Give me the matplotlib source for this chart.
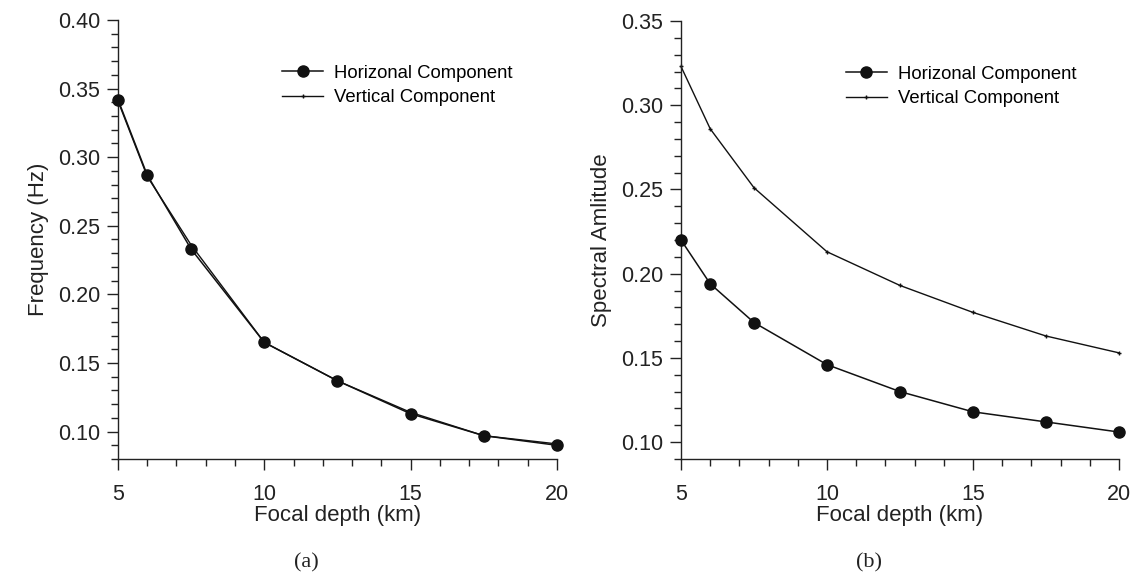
import numpy as np
import matplotlib
matplotlib.use('Agg')
from matplotlib import pyplot as plt
from matplotlib.ticker import MultipleLocator, FormatStrFormatter

plt.rcParams['font.family'] = ['Liberation Sans', 'DejaVu Sans']

# 数据
depth = [5, 6, 7.5, 10, 12.5, 15, 17.5, 20]
freq_h = [0.342, 0.287, 0.233, 0.165, 0.137, 0.113, 0.097, 0.090]
freq_v = [0.341, 0.286, 0.236, 0.165, 0.137, 0.114, 0.097, 0.091]
amp_h = [0.220, 0.194, 0.171, 0.146, 0.130, 0.118, 0.112, 0.106]
amp_v = [0.323, 0.286, 0.251, 0.213, 0.193, 0.177, 0.163, 0.153]

fig = plt.figure(figsize=(11.43, 5.78), dpi=100)
ax1 = fig.add_axes([0.1032, 0.2059, 0.384, 0.7595])
ax2 = fig.add_axes([0.5958, 0.2059, 0.3832, 0.7578])


def style_axis(ax, ylim, ylabel, tag):
    ax.set_xlim(5, 20)
    ax.set_ylim(*ylim)
    for s in ['top', 'right']:
        ax.spines[s].set_visible(False)
    for s in ['left', 'bottom']:
        ax.spines[s].set_linewidth(1.0)
        ax.spines[s].set_color('#222222')
    ax.xaxis.set_major_locator(MultipleLocator(5))
    ax.xaxis.set_minor_locator(MultipleLocator(1))
    ax.yaxis.set_major_locator(MultipleLocator(0.05))
    ax.yaxis.set_minor_locator(MultipleLocator(0.01))
    ax.yaxis.set_major_formatter(FormatStrFormatter('%.2f'))
    ax.tick_params(which='major', direction='out', length=8, width=1,
                   labelsize=15.5, colors='#222222', pad=5)
    ax.tick_params(which='minor', direction='out', length=5, width=1,
                   colors='#222222')
    ax.tick_params(axis='x', pad=10)
    ax.set_xlabel('Focal depth (km)', fontsize=16, color='#222222', labelpad=0)
    ax.set_ylabel(ylabel, fontsize=16, color='#222222', labelpad=6)
    ax.text(0.43, -0.215, tag, transform=ax.transAxes, ha='center', va='top',
            fontsize=16, family='Liberation Serif', color='#222222')


def draw(ax, yh, yv):
    ax.plot(depth, yh, color='#111111', lw=1.1, marker='o', markersize=8,
            label='Horizonal Component', clip_on=False, zorder=3)
    ax.plot(depth, yv, color='#111111', lw=1.0, marker='+', markersize=3,
            label='Vertical Component', clip_on=False, zorder=2)


draw(ax1, freq_h, freq_v)
style_axis(ax1, (0.08, 0.40), 'Frequency (Hz)', '(a)')
ax1.legend(loc='upper left', bbox_to_anchor=(0.358, 0.915), frameon=False,
           fontsize=13.3, handlelength=2.2, handletextpad=0.6,
           labelspacing=0.4, borderaxespad=0)

draw(ax2, amp_h, amp_v)
style_axis(ax2, (0.09, 0.35), 'Spectral Amlitude', '(b)')
ax2.legend(loc='upper left', bbox_to_anchor=(0.36, 0.915), frameon=False,
           fontsize=13.3, handlelength=2.2, handletextpad=0.6,
           labelspacing=0.4, borderaxespad=0)

fig.savefig('out.png', dpi=100, facecolor='white')
